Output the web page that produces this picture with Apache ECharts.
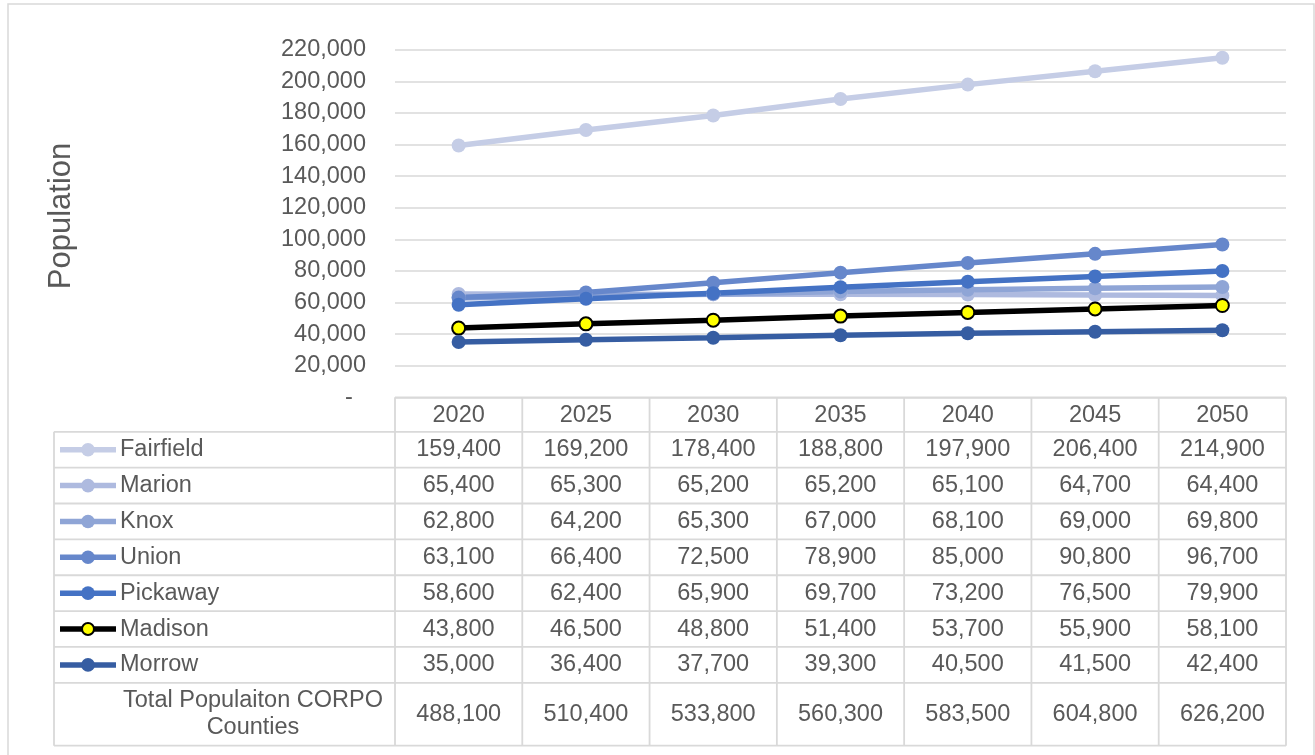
<!DOCTYPE html>
<html>
<head>
<meta charset="utf-8">
<script src="https://cdn.jsdelivr.net/npm/echarts@6/dist/echarts.min.js"></script>
<style>
  html, body { margin: 0; padding: 0; background: #fff; }
  #chart { width: 1315px; height: 755px; }
</style>
</head>
<body>
<div id="chart"></div>
<script>
// data
const years = ['2020', '2025', '2030', '2035', '2040', '2045', '2050'];
const fairfield = [159400, 169200, 178400, 188800, 197900, 206400, 214900];
const marion    = [65400, 65300, 65200, 65200, 65100, 64700, 64400];
const knox      = [62800, 64200, 65300, 67000, 68100, 69000, 69800];
const union     = [63100, 66400, 72500, 78900, 85000, 90800, 96700];
const pickaway  = [58600, 62400, 65900, 69700, 73200, 76500, 79900];
const madison   = [43800, 46500, 48800, 51400, 53700, 55900, 58100];
const morrow    = [35000, 36400, 37700, 39300, 40500, 41500, 42400];
const totals    = [488100, 510400, 533800, 560300, 583500, 604800, 626200];
const totalLabel = 'Total Populaiton CORPO\nCounties';

const FONT = '"Liberation Sans", Arial, sans-serif';
const TXT = '#595959';
const GRID = '#D9D9D9';
const FS = 23.5;

const counties = [
    { name: 'Fairfield', data: fairfield, color: '#C5CDE6' },
    { name: 'Marion', data: marion, color: '#AEBADF' },
    { name: 'Knox', data: knox, color: '#8FA5D6' },
    { name: 'Union', data: union, color: '#6687CB' },
    { name: 'Pickaway', data: pickaway, color: '#4472C4' },
    { name: 'Madison', data: madison, color: '#000000', marker: '#FFFF00' },
    { name: 'Morrow', data: morrow, color: '#365DA2' }
];

const fmt = v => v.toLocaleString('en-US');

const chart = echarts.init(document.getElementById('chart'));

chart.setOption({
    animation: false,
    grid: { left: 395, right: 29, top: 49.7, bottom: 357.7 },
    xAxis: {
        type: 'category',
        data: years,
        axisLine: { show: false },
        axisTick: { show: false },
        axisLabel: { color: TXT, fontSize: FS, fontFamily: FONT, margin: 18, verticalAlign: 'middle' }
    },
    yAxis: {
        type: 'value',
        min: 0,
        max: 220000,
        interval: 20000,
        axisLine: { show: false },
        axisTick: { show: false },
        splitLine: { lineStyle: { color: GRID, width: 1.5 } },
        axisLabel: {
            color: TXT, fontSize: FS, fontFamily: FONT, margin: 29,
            formatter: v => v === 0 ? '-  ' : fmt(v)
        }
    },
    series: counties.map(c => ({
        name: c.name,
        type: 'line',
        data: c.data,
        symbol: 'circle',
        symbolSize: c.marker ? 13 : 14,
        lineStyle: { color: c.color, width: 5.5 },
        itemStyle: c.marker
            ? { color: c.marker, borderColor: '#000', borderWidth: 2 }
            : { color: c.color, borderWidth: 0 }
    }))
});

// data table under the plot, laid out on the category axis positions
const centers = years.map(y => chart.convertToPixel({ xAxisIndex: 0 }, y));
const colW = centers[1] - centers[0];
const tableLeft = centers[0] - colW / 2;
const tableRight = centers[centers.length - 1] + colW / 2;
const headTop = 397.3;
const rowTop = 431.8;
const rowH = 35.86;
const bottom = 745.7;
const cellLeft = 54;

const g = [];
const line = (x1, y1, x2, y2) => g.push({
    type: 'line', silent: true,
    shape: { x1, y1, x2, y2 },
    style: { stroke: GRID, lineWidth: 1.8 }
});

// outer chart border
g.push({ type: 'rect', silent: true, shape: { x: 8, y: 4, width: 1306, height: 760 },
    style: { fill: null, stroke: GRID, lineWidth: 1.5 } });

// axis title
g.push({ type: 'text', silent: true, x: 61, y: 216, rotation: Math.PI / 2,
    style: { text: 'Population', fill: TXT, font: '31px ' + FONT, align: 'center', verticalAlign: 'middle' } });

line(tableLeft, headTop, tableRight, headTop);
for (let i = 0; i <= counties.length; i++) {
    line(cellLeft, rowTop + i * rowH, tableRight, rowTop + i * rowH);
}
line(cellLeft, bottom, tableRight, bottom);
line(cellLeft, rowTop, cellLeft, bottom);
for (let k = 0; k <= years.length; k++) {
    line(tableLeft + k * colW, headTop, tableLeft + k * colW, bottom);
}

const cellText = (x, y, text, align) => g.push({
    type: 'text', silent: true, x, y,
    style: { text, fill: TXT, font: FS + 'px ' + FONT, align, verticalAlign: 'middle', lineHeight: 27 }
});

counties.forEach((c, i) => {
    const cy = rowTop + (i + 0.5) * rowH;
    g.push({ type: 'line', silent: true, shape: { x1: 60, y1: cy, x2: 116, y2: cy },
        style: { stroke: c.color, lineWidth: 5.5 } });
    g.push({ type: 'circle', silent: true, shape: { cx: 88, cy, r: c.marker ? 6 : 6.8 },
        style: c.marker ? { fill: c.marker, stroke: '#000', lineWidth: 2 } : { fill: c.color } });
    cellText(120, cy, c.name, 'left');
    c.data.forEach((v, j) => cellText(centers[j], cy, fmt(v), 'center'));
});

const totalY = (rowTop + counties.length * rowH + bottom) / 2;
cellText(253, totalY, totalLabel, 'center');
totals.forEach((v, j) => cellText(centers[j], totalY, fmt(v), 'center'));

chart.setOption({ graphic: { elements: g } });
</script>
</body>
</html>
